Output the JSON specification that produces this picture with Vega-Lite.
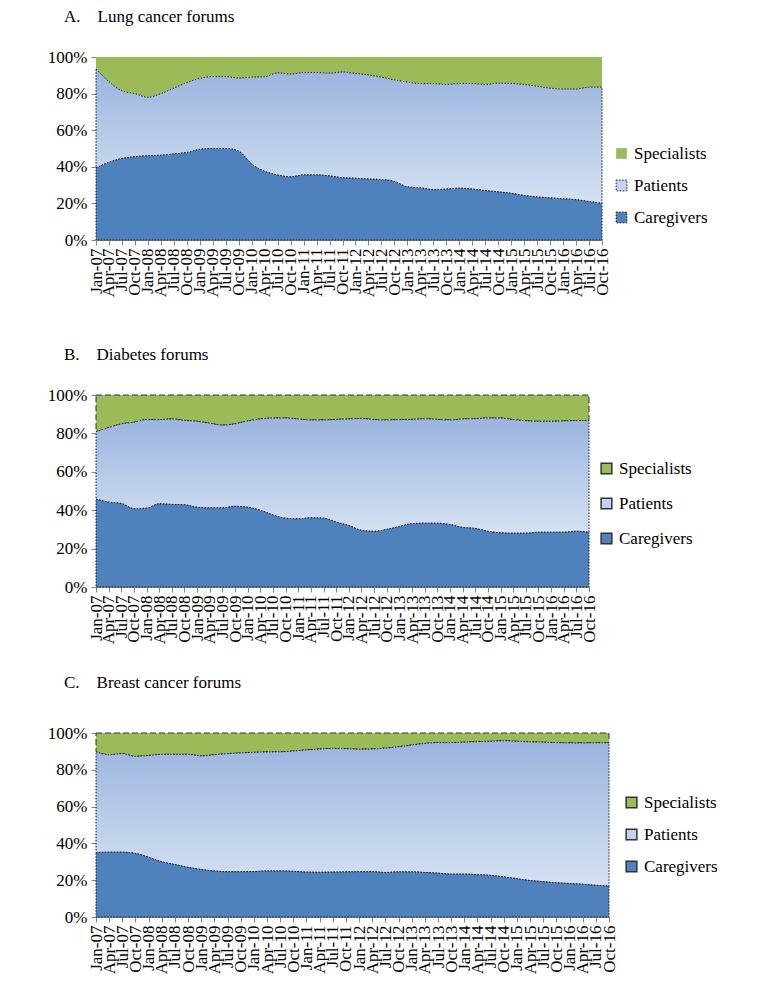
{
"$schema": "https://vega.github.io/schema/vega-lite/v6.json",
"padding": {"top": 8, "left": 47, "right": 5, "bottom": 5},
"config": {"view": {"stroke": null}, "font": "Liberation Serif",
 "axis": {"domainColor": "#868686", "tickColor": "#868686", "tickSize": 5, "labelFont": "Liberation Serif", "labelFontSize": 17, "labelColor": "#000", "grid": false, "zindex": 1},
 "legend": {"orient": "none", "title": null, "symbolType": "square", "symbolSize": 115, "labelFontSize": 17, "labelColor": "#000", "labelFont": "Liberation Serif", "labelOffset": 4, "padding": 0, "symbolOpacity": 1},
 "title": {"font": "Liberation Serif", "fontSize": 17, "fontWeight": "normal", "color": "#000", "anchor": "start", "frame": "group"}},
"datasets": {"d": [
{"p":"A","q":"Jan-07","g":"Caregivers","v":39.3},{"p":"A","q":"Jan-07","g":"Patients","v":54.1},{"p":"A","q":"Jan-07","g":"Specialists","v":6.6},
{"p":"A","q":"Apr-07","g":"Caregivers","v":42.5},{"p":"A","q":"Apr-07","g":"Patients","v":44.0},{"p":"A","q":"Apr-07","g":"Specialists","v":13.5},
{"p":"A","q":"Jul-07","g":"Caregivers","v":44.5},{"p":"A","q":"Jul-07","g":"Patients","v":37.0},{"p":"A","q":"Jul-07","g":"Specialists","v":18.5},
{"p":"A","q":"Oct-07","g":"Caregivers","v":45.5},{"p":"A","q":"Oct-07","g":"Patients","v":34.5},{"p":"A","q":"Oct-07","g":"Specialists","v":20.0},
{"p":"A","q":"Jan-08","g":"Caregivers","v":46.0},{"p":"A","q":"Jan-08","g":"Patients","v":32.0},{"p":"A","q":"Jan-08","g":"Specialists","v":22.0},
{"p":"A","q":"Apr-08","g":"Caregivers","v":46.3},{"p":"A","q":"Apr-08","g":"Patients","v":33.7},{"p":"A","q":"Apr-08","g":"Specialists","v":20.0},
{"p":"A","q":"Jul-08","g":"Caregivers","v":47.0},{"p":"A","q":"Jul-08","g":"Patients","v":36.0},{"p":"A","q":"Jul-08","g":"Specialists","v":17.0},
{"p":"A","q":"Oct-08","g":"Caregivers","v":47.8},{"p":"A","q":"Oct-08","g":"Patients","v":38.2},{"p":"A","q":"Oct-08","g":"Specialists","v":14.0},
{"p":"A","q":"Jan-09","g":"Caregivers","v":49.5},{"p":"A","q":"Jan-09","g":"Patients","v":38.8},{"p":"A","q":"Jan-09","g":"Specialists","v":11.7},
{"p":"A","q":"Apr-09","g":"Caregivers","v":50.0},{"p":"A","q":"Apr-09","g":"Patients","v":39.3},{"p":"A","q":"Apr-09","g":"Specialists","v":10.7},
{"p":"A","q":"Jul-09","g":"Caregivers","v":50.0},{"p":"A","q":"Jul-09","g":"Patients","v":39.3},{"p":"A","q":"Jul-09","g":"Specialists","v":10.7},
{"p":"A","q":"Oct-09","g":"Caregivers","v":48.5},{"p":"A","q":"Oct-09","g":"Patients","v":40.0},{"p":"A","q":"Oct-09","g":"Specialists","v":11.5},
{"p":"A","q":"Jan-10","g":"Caregivers","v":41.5},{"p":"A","q":"Jan-10","g":"Patients","v":47.5},{"p":"A","q":"Jan-10","g":"Specialists","v":11.0},
{"p":"A","q":"Apr-10","g":"Caregivers","v":37.5},{"p":"A","q":"Apr-10","g":"Patients","v":51.7},{"p":"A","q":"Apr-10","g":"Specialists","v":10.8},
{"p":"A","q":"Jul-10","g":"Caregivers","v":35.5},{"p":"A","q":"Jul-10","g":"Patients","v":55.8},{"p":"A","q":"Jul-10","g":"Specialists","v":8.7},
{"p":"A","q":"Oct-10","g":"Caregivers","v":34.5},{"p":"A","q":"Oct-10","g":"Patients","v":56.2},{"p":"A","q":"Oct-10","g":"Specialists","v":9.3},
{"p":"A","q":"Jan-11","g":"Caregivers","v":35.5},{"p":"A","q":"Jan-11","g":"Patients","v":56.0},{"p":"A","q":"Jan-11","g":"Specialists","v":8.5},
{"p":"A","q":"Apr-11","g":"Caregivers","v":35.5},{"p":"A","q":"Apr-11","g":"Patients","v":56.0},{"p":"A","q":"Apr-11","g":"Specialists","v":8.5},
{"p":"A","q":"Jul-11","g":"Caregivers","v":35.0},{"p":"A","q":"Jul-11","g":"Patients","v":56.2},{"p":"A","q":"Jul-11","g":"Specialists","v":8.8},
{"p":"A","q":"Oct-11","g":"Caregivers","v":34.0},{"p":"A","q":"Oct-11","g":"Patients","v":57.8},{"p":"A","q":"Oct-11","g":"Specialists","v":8.2},
{"p":"A","q":"Jan-12","g":"Caregivers","v":33.7},{"p":"A","q":"Jan-12","g":"Patients","v":57.3},{"p":"A","q":"Jan-12","g":"Specialists","v":9.0},
{"p":"A","q":"Apr-12","g":"Caregivers","v":33.3},{"p":"A","q":"Apr-12","g":"Patients","v":56.9},{"p":"A","q":"Apr-12","g":"Specialists","v":9.8},
{"p":"A","q":"Jul-12","g":"Caregivers","v":33.0},{"p":"A","q":"Jul-12","g":"Patients","v":56.0},{"p":"A","q":"Jul-12","g":"Specialists","v":11.0},
{"p":"A","q":"Oct-12","g":"Caregivers","v":32.0},{"p":"A","q":"Oct-12","g":"Patients","v":55.5},{"p":"A","q":"Oct-12","g":"Specialists","v":12.5},
{"p":"A","q":"Jan-13","g":"Caregivers","v":29.0},{"p":"A","q":"Jan-13","g":"Patients","v":57.3},{"p":"A","q":"Jan-13","g":"Specialists","v":13.7},
{"p":"A","q":"Apr-13","g":"Caregivers","v":28.5},{"p":"A","q":"Apr-13","g":"Patients","v":57.0},{"p":"A","q":"Apr-13","g":"Specialists","v":14.5},
{"p":"A","q":"Jul-13","g":"Caregivers","v":27.5},{"p":"A","q":"Jul-13","g":"Patients","v":58.0},{"p":"A","q":"Jul-13","g":"Specialists","v":14.5},
{"p":"A","q":"Oct-13","g":"Caregivers","v":27.8},{"p":"A","q":"Oct-13","g":"Patients","v":57.2},{"p":"A","q":"Oct-13","g":"Specialists","v":15.0},
{"p":"A","q":"Jan-14","g":"Caregivers","v":28.3},{"p":"A","q":"Jan-14","g":"Patients","v":57.2},{"p":"A","q":"Jan-14","g":"Specialists","v":14.5},
{"p":"A","q":"Apr-14","g":"Caregivers","v":27.8},{"p":"A","q":"Apr-14","g":"Patients","v":57.7},{"p":"A","q":"Apr-14","g":"Specialists","v":14.5},
{"p":"A","q":"Jul-14","g":"Caregivers","v":27.0},{"p":"A","q":"Jul-14","g":"Patients","v":58.0},{"p":"A","q":"Jul-14","g":"Specialists","v":15.0},
{"p":"A","q":"Oct-14","g":"Caregivers","v":26.3},{"p":"A","q":"Oct-14","g":"Patients","v":59.4},{"p":"A","q":"Oct-14","g":"Specialists","v":14.3},
{"p":"A","q":"Jan-15","g":"Caregivers","v":25.5},{"p":"A","q":"Jan-15","g":"Patients","v":60.0},{"p":"A","q":"Jan-15","g":"Specialists","v":14.5},
{"p":"A","q":"Apr-15","g":"Caregivers","v":24.3},{"p":"A","q":"Apr-15","g":"Patients","v":60.7},{"p":"A","q":"Apr-15","g":"Specialists","v":15.0},
{"p":"A","q":"Jul-15","g":"Caregivers","v":23.5},{"p":"A","q":"Jul-15","g":"Patients","v":60.5},{"p":"A","q":"Jul-15","g":"Specialists","v":16.0},
{"p":"A","q":"Oct-15","g":"Caregivers","v":23.0},{"p":"A","q":"Oct-15","g":"Patients","v":60.0},{"p":"A","q":"Oct-15","g":"Specialists","v":17.0},
{"p":"A","q":"Jan-16","g":"Caregivers","v":22.5},{"p":"A","q":"Jan-16","g":"Patients","v":60.0},{"p":"A","q":"Jan-16","g":"Specialists","v":17.5},
{"p":"A","q":"Apr-16","g":"Caregivers","v":22.0},{"p":"A","q":"Apr-16","g":"Patients","v":60.5},{"p":"A","q":"Apr-16","g":"Specialists","v":17.5},
{"p":"A","q":"Jul-16","g":"Caregivers","v":21.0},{"p":"A","q":"Jul-16","g":"Patients","v":62.5},{"p":"A","q":"Jul-16","g":"Specialists","v":16.5},
{"p":"A","q":"Oct-16","g":"Caregivers","v":20.0},{"p":"A","q":"Oct-16","g":"Patients","v":63.5},{"p":"A","q":"Oct-16","g":"Specialists","v":16.5},
{"p":"B","q":"Jan-07","g":"Caregivers","v":45.8},{"p":"B","q":"Jan-07","g":"Patients","v":35.1},{"p":"B","q":"Jan-07","g":"Specialists","v":19.1},
{"p":"B","q":"Apr-07","g":"Caregivers","v":44.2},{"p":"B","q":"Apr-07","g":"Patients","v":38.8},{"p":"B","q":"Apr-07","g":"Specialists","v":17.0},
{"p":"B","q":"Jul-07","g":"Caregivers","v":43.5},{"p":"B","q":"Jul-07","g":"Patients","v":41.5},{"p":"B","q":"Jul-07","g":"Specialists","v":15.0},
{"p":"B","q":"Oct-07","g":"Caregivers","v":40.8},{"p":"B","q":"Oct-07","g":"Patients","v":45.0},{"p":"B","q":"Oct-07","g":"Specialists","v":14.2},
{"p":"B","q":"Jan-08","g":"Caregivers","v":41.0},{"p":"B","q":"Jan-08","g":"Patients","v":46.2},{"p":"B","q":"Jan-08","g":"Specialists","v":12.8},
{"p":"B","q":"Apr-08","g":"Caregivers","v":43.3},{"p":"B","q":"Apr-08","g":"Patients","v":43.9},{"p":"B","q":"Apr-08","g":"Specialists","v":12.8},
{"p":"B","q":"Jul-08","g":"Caregivers","v":43.0},{"p":"B","q":"Jul-08","g":"Patients","v":44.5},{"p":"B","q":"Jul-08","g":"Specialists","v":12.5},
{"p":"B","q":"Oct-08","g":"Caregivers","v":42.8},{"p":"B","q":"Oct-08","g":"Patients","v":44.0},{"p":"B","q":"Oct-08","g":"Specialists","v":13.2},
{"p":"B","q":"Jan-09","g":"Caregivers","v":41.5},{"p":"B","q":"Jan-09","g":"Patients","v":44.8},{"p":"B","q":"Jan-09","g":"Specialists","v":13.7},
{"p":"B","q":"Apr-09","g":"Caregivers","v":41.2},{"p":"B","q":"Apr-09","g":"Patients","v":44.1},{"p":"B","q":"Apr-09","g":"Specialists","v":14.7},
{"p":"B","q":"Jul-09","g":"Caregivers","v":41.2},{"p":"B","q":"Jul-09","g":"Patients","v":43.1},{"p":"B","q":"Jul-09","g":"Specialists","v":15.7},
{"p":"B","q":"Oct-09","g":"Caregivers","v":42.0},{"p":"B","q":"Oct-09","g":"Patients","v":43.0},{"p":"B","q":"Oct-09","g":"Specialists","v":15.0},
{"p":"B","q":"Jan-10","g":"Caregivers","v":41.5},{"p":"B","q":"Jan-10","g":"Patients","v":45.0},{"p":"B","q":"Jan-10","g":"Specialists","v":13.5},
{"p":"B","q":"Apr-10","g":"Caregivers","v":40.0},{"p":"B","q":"Apr-10","g":"Patients","v":47.5},{"p":"B","q":"Apr-10","g":"Specialists","v":12.5},
{"p":"B","q":"Jul-10","g":"Caregivers","v":37.5},{"p":"B","q":"Jul-10","g":"Patients","v":50.5},{"p":"B","q":"Jul-10","g":"Specialists","v":12.0},
{"p":"B","q":"Oct-10","g":"Caregivers","v":35.8},{"p":"B","q":"Oct-10","g":"Patients","v":52.2},{"p":"B","q":"Oct-10","g":"Specialists","v":12.0},
{"p":"B","q":"Jan-11","g":"Caregivers","v":35.5},{"p":"B","q":"Jan-11","g":"Patients","v":52.0},{"p":"B","q":"Jan-11","g":"Specialists","v":12.5},
{"p":"B","q":"Apr-11","g":"Caregivers","v":36.0},{"p":"B","q":"Apr-11","g":"Patients","v":51.0},{"p":"B","q":"Apr-11","g":"Specialists","v":13.0},
{"p":"B","q":"Jul-11","g":"Caregivers","v":35.8},{"p":"B","q":"Jul-11","g":"Patients","v":51.2},{"p":"B","q":"Jul-11","g":"Specialists","v":13.0},
{"p":"B","q":"Oct-11","g":"Caregivers","v":33.8},{"p":"B","q":"Oct-11","g":"Patients","v":53.5},{"p":"B","q":"Oct-11","g":"Specialists","v":12.7},
{"p":"B","q":"Jan-12","g":"Caregivers","v":32.0},{"p":"B","q":"Jan-12","g":"Patients","v":55.5},{"p":"B","q":"Jan-12","g":"Specialists","v":12.5},
{"p":"B","q":"Apr-12","g":"Caregivers","v":29.5},{"p":"B","q":"Apr-12","g":"Patients","v":58.3},{"p":"B","q":"Apr-12","g":"Specialists","v":12.2},
{"p":"B","q":"Jul-12","g":"Caregivers","v":29.0},{"p":"B","q":"Jul-12","g":"Patients","v":58.2},{"p":"B","q":"Jul-12","g":"Specialists","v":12.8},
{"p":"B","q":"Oct-12","g":"Caregivers","v":30.0},{"p":"B","q":"Oct-12","g":"Patients","v":57.0},{"p":"B","q":"Oct-12","g":"Specialists","v":13.0},
{"p":"B","q":"Jan-13","g":"Caregivers","v":31.5},{"p":"B","q":"Jan-13","g":"Patients","v":55.7},{"p":"B","q":"Jan-13","g":"Specialists","v":12.8},
{"p":"B","q":"Apr-13","g":"Caregivers","v":33.0},{"p":"B","q":"Apr-13","g":"Patients","v":54.3},{"p":"B","q":"Apr-13","g":"Specialists","v":12.7},
{"p":"B","q":"Jul-13","g":"Caregivers","v":33.2},{"p":"B","q":"Jul-13","g":"Patients","v":54.4},{"p":"B","q":"Jul-13","g":"Specialists","v":12.4},
{"p":"B","q":"Oct-13","g":"Caregivers","v":33.2},{"p":"B","q":"Oct-13","g":"Patients","v":54.1},{"p":"B","q":"Oct-13","g":"Specialists","v":12.7},
{"p":"B","q":"Jan-14","g":"Caregivers","v":32.5},{"p":"B","q":"Jan-14","g":"Patients","v":54.5},{"p":"B","q":"Jan-14","g":"Specialists","v":13.0},
{"p":"B","q":"Apr-14","g":"Caregivers","v":31.0},{"p":"B","q":"Apr-14","g":"Patients","v":56.5},{"p":"B","q":"Apr-14","g":"Specialists","v":12.5},
{"p":"B","q":"Jul-14","g":"Caregivers","v":30.5},{"p":"B","q":"Jul-14","g":"Patients","v":57.2},{"p":"B","q":"Jul-14","g":"Specialists","v":12.3},
{"p":"B","q":"Oct-14","g":"Caregivers","v":29.0},{"p":"B","q":"Oct-14","g":"Patients","v":59.0},{"p":"B","q":"Oct-14","g":"Specialists","v":12.0},
{"p":"B","q":"Jan-15","g":"Caregivers","v":28.2},{"p":"B","q":"Jan-15","g":"Patients","v":59.8},{"p":"B","q":"Jan-15","g":"Specialists","v":12.0},
{"p":"B","q":"Apr-15","g":"Caregivers","v":28.0},{"p":"B","q":"Apr-15","g":"Patients","v":59.2},{"p":"B","q":"Apr-15","g":"Specialists","v":12.8},
{"p":"B","q":"Jul-15","g":"Caregivers","v":28.0},{"p":"B","q":"Jul-15","g":"Patients","v":58.6},{"p":"B","q":"Jul-15","g":"Specialists","v":13.4},
{"p":"B","q":"Oct-15","g":"Caregivers","v":28.5},{"p":"B","q":"Oct-15","g":"Patients","v":57.8},{"p":"B","q":"Oct-15","g":"Specialists","v":13.7},
{"p":"B","q":"Jan-16","g":"Caregivers","v":28.5},{"p":"B","q":"Jan-16","g":"Patients","v":57.8},{"p":"B","q":"Jan-16","g":"Specialists","v":13.7},
{"p":"B","q":"Apr-16","g":"Caregivers","v":28.5},{"p":"B","q":"Apr-16","g":"Patients","v":58.0},{"p":"B","q":"Apr-16","g":"Specialists","v":13.5},
{"p":"B","q":"Jul-16","g":"Caregivers","v":29.0},{"p":"B","q":"Jul-16","g":"Patients","v":57.7},{"p":"B","q":"Jul-16","g":"Specialists","v":13.3},
{"p":"B","q":"Oct-16","g":"Caregivers","v":28.5},{"p":"B","q":"Oct-16","g":"Patients","v":58.2},{"p":"B","q":"Oct-16","g":"Specialists","v":13.3},
{"p":"C","q":"Jan-07","g":"Caregivers","v":35.0},{"p":"C","q":"Jan-07","g":"Patients","v":54.8},{"p":"C","q":"Jan-07","g":"Specialists","v":10.2},
{"p":"C","q":"Apr-07","g":"Caregivers","v":35.2},{"p":"C","q":"Apr-07","g":"Patients","v":53.0},{"p":"C","q":"Apr-07","g":"Specialists","v":11.8},
{"p":"C","q":"Jul-07","g":"Caregivers","v":35.2},{"p":"C","q":"Jul-07","g":"Patients","v":53.6},{"p":"C","q":"Jul-07","g":"Specialists","v":11.2},
{"p":"C","q":"Oct-07","g":"Caregivers","v":34.5},{"p":"C","q":"Oct-07","g":"Patients","v":52.8},{"p":"C","q":"Oct-07","g":"Specialists","v":12.7},
{"p":"C","q":"Jan-08","g":"Caregivers","v":32.5},{"p":"C","q":"Jan-08","g":"Patients","v":55.3},{"p":"C","q":"Jan-08","g":"Specialists","v":12.2},
{"p":"C","q":"Apr-08","g":"Caregivers","v":30.0},{"p":"C","q":"Apr-08","g":"Patients","v":58.4},{"p":"C","q":"Apr-08","g":"Specialists","v":11.6},
{"p":"C","q":"Jul-08","g":"Caregivers","v":28.5},{"p":"C","q":"Jul-08","g":"Patients","v":59.9},{"p":"C","q":"Jul-08","g":"Specialists","v":11.6},
{"p":"C","q":"Oct-08","g":"Caregivers","v":27.0},{"p":"C","q":"Oct-08","g":"Patients","v":61.4},{"p":"C","q":"Oct-08","g":"Specialists","v":11.6},
{"p":"C","q":"Jan-09","g":"Caregivers","v":25.8},{"p":"C","q":"Jan-09","g":"Patients","v":61.8},{"p":"C","q":"Jan-09","g":"Specialists","v":12.4},
{"p":"C","q":"Apr-09","g":"Caregivers","v":25.0},{"p":"C","q":"Apr-09","g":"Patients","v":63.2},{"p":"C","q":"Apr-09","g":"Specialists","v":11.8},
{"p":"C","q":"Jul-09","g":"Caregivers","v":24.6},{"p":"C","q":"Jul-09","g":"Patients","v":64.2},{"p":"C","q":"Jul-09","g":"Specialists","v":11.2},
{"p":"C","q":"Oct-09","g":"Caregivers","v":24.6},{"p":"C","q":"Oct-09","g":"Patients","v":64.6},{"p":"C","q":"Oct-09","g":"Specialists","v":10.8},
{"p":"C","q":"Jan-10","g":"Caregivers","v":24.7},{"p":"C","q":"Jan-10","g":"Patients","v":64.8},{"p":"C","q":"Jan-10","g":"Specialists","v":10.5},
{"p":"C","q":"Apr-10","g":"Caregivers","v":25.0},{"p":"C","q":"Apr-10","g":"Patients","v":64.7},{"p":"C","q":"Apr-10","g":"Specialists","v":10.3},
{"p":"C","q":"Jul-10","g":"Caregivers","v":25.0},{"p":"C","q":"Jul-10","g":"Patients","v":64.8},{"p":"C","q":"Jul-10","g":"Specialists","v":10.2},
{"p":"C","q":"Oct-10","g":"Caregivers","v":24.8},{"p":"C","q":"Oct-10","g":"Patients","v":65.4},{"p":"C","q":"Oct-10","g":"Specialists","v":9.8},
{"p":"C","q":"Jan-11","g":"Caregivers","v":24.4},{"p":"C","q":"Jan-11","g":"Patients","v":66.4},{"p":"C","q":"Jan-11","g":"Specialists","v":9.2},
{"p":"C","q":"Apr-11","g":"Caregivers","v":24.3},{"p":"C","q":"Apr-11","g":"Patients","v":67.0},{"p":"C","q":"Apr-11","g":"Specialists","v":8.7},
{"p":"C","q":"Jul-11","g":"Caregivers","v":24.4},{"p":"C","q":"Jul-11","g":"Patients","v":67.2},{"p":"C","q":"Jul-11","g":"Specialists","v":8.4},
{"p":"C","q":"Oct-11","g":"Caregivers","v":24.5},{"p":"C","q":"Oct-11","g":"Patients","v":67.0},{"p":"C","q":"Oct-11","g":"Specialists","v":8.5},
{"p":"C","q":"Jan-12","g":"Caregivers","v":24.6},{"p":"C","q":"Jan-12","g":"Patients","v":66.6},{"p":"C","q":"Jan-12","g":"Specialists","v":8.8},
{"p":"C","q":"Apr-12","g":"Caregivers","v":24.6},{"p":"C","q":"Apr-12","g":"Patients","v":66.7},{"p":"C","q":"Apr-12","g":"Specialists","v":8.7},
{"p":"C","q":"Jul-12","g":"Caregivers","v":24.2},{"p":"C","q":"Jul-12","g":"Patients","v":67.6},{"p":"C","q":"Jul-12","g":"Specialists","v":8.2},
{"p":"C","q":"Oct-12","g":"Caregivers","v":24.5},{"p":"C","q":"Oct-12","g":"Patients","v":68.0},{"p":"C","q":"Oct-12","g":"Specialists","v":7.5},
{"p":"C","q":"Jan-13","g":"Caregivers","v":24.5},{"p":"C","q":"Jan-13","g":"Patients","v":69.0},{"p":"C","q":"Jan-13","g":"Specialists","v":6.5},
{"p":"C","q":"Apr-13","g":"Caregivers","v":24.2},{"p":"C","q":"Apr-13","g":"Patients","v":70.1},{"p":"C","q":"Apr-13","g":"Specialists","v":5.7},
{"p":"C","q":"Jul-13","g":"Caregivers","v":23.8},{"p":"C","q":"Jul-13","g":"Patients","v":71.0},{"p":"C","q":"Jul-13","g":"Specialists","v":5.2},
{"p":"C","q":"Oct-13","g":"Caregivers","v":23.3},{"p":"C","q":"Oct-13","g":"Patients","v":71.5},{"p":"C","q":"Oct-13","g":"Specialists","v":5.2},
{"p":"C","q":"Jan-14","g":"Caregivers","v":23.3},{"p":"C","q":"Jan-14","g":"Patients","v":71.7},{"p":"C","q":"Jan-14","g":"Specialists","v":5.0},
{"p":"C","q":"Apr-14","g":"Caregivers","v":23.0},{"p":"C","q":"Apr-14","g":"Patients","v":72.3},{"p":"C","q":"Apr-14","g":"Specialists","v":4.7},
{"p":"C","q":"Jul-14","g":"Caregivers","v":22.6},{"p":"C","q":"Jul-14","g":"Patients","v":72.9},{"p":"C","q":"Jul-14","g":"Specialists","v":4.5},
{"p":"C","q":"Oct-14","g":"Caregivers","v":21.8},{"p":"C","q":"Oct-14","g":"Patients","v":74.0},{"p":"C","q":"Oct-14","g":"Specialists","v":4.2},
{"p":"C","q":"Jan-15","g":"Caregivers","v":20.8},{"p":"C","q":"Jan-15","g":"Patients","v":74.7},{"p":"C","q":"Jan-15","g":"Specialists","v":4.5},
{"p":"C","q":"Apr-15","g":"Caregivers","v":19.8},{"p":"C","q":"Apr-15","g":"Patients","v":75.4},{"p":"C","q":"Apr-15","g":"Specialists","v":4.8},
{"p":"C","q":"Jul-15","g":"Caregivers","v":19.2},{"p":"C","q":"Jul-15","g":"Patients","v":75.8},{"p":"C","q":"Jul-15","g":"Specialists","v":5.0},
{"p":"C","q":"Oct-15","g":"Caregivers","v":18.6},{"p":"C","q":"Oct-15","g":"Patients","v":76.2},{"p":"C","q":"Oct-15","g":"Specialists","v":5.2},
{"p":"C","q":"Jan-16","g":"Caregivers","v":18.2},{"p":"C","q":"Jan-16","g":"Patients","v":76.4},{"p":"C","q":"Jan-16","g":"Specialists","v":5.4},
{"p":"C","q":"Apr-16","g":"Caregivers","v":17.8},{"p":"C","q":"Apr-16","g":"Patients","v":76.8},{"p":"C","q":"Apr-16","g":"Specialists","v":5.4},
{"p":"C","q":"Jul-16","g":"Caregivers","v":17.2},{"p":"C","q":"Jul-16","g":"Patients","v":77.5},{"p":"C","q":"Jul-16","g":"Specialists","v":5.3},
{"p":"C","q":"Oct-16","g":"Caregivers","v":16.8},{"p":"C","q":"Oct-16","g":"Patients","v":77.9},{"p":"C","q":"Oct-16","g":"Specialists","v":5.3}
]},
"data": {"name": "d"},
"spacing": 49,
"resolve": {"scale": {"color": "independent"}, "legend": {"color": "independent"}},
"vconcat": [
{
 "title": {"text": "A.\u00a0\u00a0\u00a0\u00a0Lung cancer forums", "dx": -32, "offset": 22},
 "width": 506, "height": 183,
 "transform": [{"filter": "datum.p === 'A'"}, {"stack": "v", "groupby": ["q"], "sort": [{"field": "g", "order": "ascending"}], "as": ["v0", "v1"]}],
 "encoding": {
  "x": {"field": "q", "type": "nominal", "sort": null, "scale": {"type": "point", "padding": 0}, "axis": {"title": null, "labelAngle": -90, "labelAlign": "right", "labelBaseline": "middle", "labelOverlap": false, "labelPadding": 3}},
  "y": {"field": "v1", "type": "quantitative", "scale": {"domain": [0, 100]}, "axis": {"title": null, "values": [0, 20, 40, 60, 80, 100], "labelExpr": "datum.value + '%'", "labelPadding": 4}},
  "y2": {"field": "v0"}
 },
 "layer": [
  {"transform": [{"filter": "datum.g === 'Specialists'"}], "mark": {"type": "area", "interpolate": "monotone", "strokeWidth": 0},
   "encoding": {"color": {"field": "g", "type": "nominal", "scale": {"domain": ["Specialists", "Patients", "Caregivers"], "range": ["#9BBB59", "#C3D3EC", "#4F81BD"]},
    "legend": {"legendX": 517, "legendY": 88, "rowPadding": 14,
     "encode": {"symbols": {"update": {"stroke": {"signal": "datum.value === 'Specialists' ? 'transparent' : '#1a1a1a'"}, "strokeWidth": {"value": 1}, "strokeDash": {"value": [1.5, 1.5]}}}}}}}},
  {"transform": [{"filter": "datum.g === 'Patients'"}], "mark": {"type": "area", "interpolate": "monotone", "fill": {"gradient": "linear", "x1": 0, "y1": 0, "x2": 0, "y2": 1, "stops": [{"offset": 0, "color": "#9AB4DF"}, {"offset": 1, "color": "#D5E1F2"}]}, "stroke": "#1a1a1a", "strokeWidth": 1, "strokeDash": [1.5, 1.5]}},
  {"transform": [{"filter": "datum.g === 'Caregivers'"}], "mark": {"type": "area", "interpolate": "monotone", "stroke": "#1a1a1a", "strokeWidth": 1, "strokeDash": [1.5, 1.5]},
   "encoding": {"color": {"field": "g", "type": "nominal", "scale": {"domain": ["Specialists", "Patients", "Caregivers"], "range": ["#9BBB59", "#C3D3EC", "#4F81BD"]},
    "legend": {"legendX": 517, "legendY": 88, "rowPadding": 14,
     "encode": {"symbols": {"update": {"stroke": {"signal": "datum.value === 'Specialists' ? 'transparent' : '#1a1a1a'"}, "strokeWidth": {"value": 1}, "strokeDash": {"value": [1.5, 1.5]}}}}}}}}
 ]
},
{
 "spacing": 30,
 "resolve": {"scale": {"color": "independent"}, "legend": {"color": "independent"}},
 "vconcat": [
 {
  "title": {"text": "B.\u00a0\u00a0\u00a0\u00a0Diabetes forums", "dx": -32, "offset": 22},
  "width": 493, "height": 192,
  "transform": [{"filter": "datum.p === 'B'"}, {"stack": "v", "groupby": ["q"], "sort": [{"field": "g", "order": "ascending"}], "as": ["v0", "v1"]}],
  "encoding": {
   "x": {"field": "q", "type": "nominal", "sort": null, "scale": {"type": "point", "padding": 0}, "axis": {"title": null, "labelAngle": -90, "labelAlign": "right", "labelBaseline": "middle", "labelOverlap": false, "labelPadding": 3}},
   "y": {"field": "v1", "type": "quantitative", "scale": {"domain": [0, 100]}, "axis": {"title": null, "values": [0, 20, 40, 60, 80, 100], "labelExpr": "datum.value + '%'", "labelPadding": 4}},
   "y2": {"field": "v0"}
  },
  "layer": [
   {"transform": [{"filter": "datum.g === 'Specialists'"}], "mark": {"type": "area", "interpolate": "monotone", "stroke": "#333333", "strokeWidth": 1, "strokeDash": [6, 3]},
    "encoding": {"color": {"field": "g", "type": "nominal", "scale": {"domain": ["Specialists", "Patients", "Caregivers"], "range": ["#9BBB59", "#C3D3EC", "#4F81BD"]},
     "legend": {"legendX": 502, "legendY": 65, "rowPadding": 17,
      "encode": {"symbols": {"update": {"stroke": {"value": "#1a1a1a"}, "strokeWidth": {"value": 1}, "strokeDash": {"signal": "datum.value === 'Specialists' ? [4, 2] : [1.5, 1.5]"}}}}}}}},
   {"transform": [{"filter": "datum.g === 'Patients'"}], "mark": {"type": "area", "interpolate": "monotone", "fill": {"gradient": "linear", "x1": 0, "y1": 0, "x2": 0, "y2": 1, "stops": [{"offset": 0, "color": "#9AB4DF"}, {"offset": 1, "color": "#D5E1F2"}]}, "stroke": "#1a1a1a", "strokeWidth": 1, "strokeDash": [1.5, 1.5]}},
   {"transform": [{"filter": "datum.g === 'Caregivers'"}], "mark": {"type": "area", "interpolate": "monotone", "stroke": "#1a1a1a", "strokeWidth": 1, "strokeDash": [1.5, 1.5]},
    "encoding": {"color": {"field": "g", "type": "nominal", "scale": {"domain": ["Specialists", "Patients", "Caregivers"], "range": ["#9BBB59", "#C3D3EC", "#4F81BD"]},
     "legend": {"legendX": 502, "legendY": 65, "rowPadding": 17,
      "encode": {"symbols": {"update": {"stroke": {"value": "#1a1a1a"}, "strokeWidth": {"value": 1}, "strokeDash": {"signal": "datum.value === 'Specialists' ? [4, 2] : [1.5, 1.5]"}}}}}}}},
   {"transform": [{"filter": "datum.g === 'Specialists'"}], "mark": {"type": "line", "interpolate": "monotone", "stroke": "#333333", "strokeWidth": 1, "strokeDash": [6, 3]}, "encoding": {"y": {"field": "v0", "type": "quantitative"}}}
  ]
 },
 {
  "title": {"text": "C.\u00a0\u00a0\u00a0\u00a0Breast cancer forums", "dx": -32, "offset": 32},
  "width": 513, "height": 184,
  "transform": [{"filter": "datum.p === 'C'"}, {"stack": "v", "groupby": ["q"], "sort": [{"field": "g", "order": "ascending"}], "as": ["v0", "v1"]}],
  "encoding": {
   "x": {"field": "q", "type": "nominal", "sort": null, "scale": {"type": "point", "padding": 0}, "axis": {"title": null, "labelAngle": -90, "labelAlign": "right", "labelBaseline": "middle", "labelOverlap": false, "labelPadding": 3}},
   "y": {"field": "v1", "type": "quantitative", "scale": {"domain": [0, 100]}, "axis": {"title": null, "values": [0, 20, 40, 60, 80, 100], "labelExpr": "datum.value + '%'", "labelPadding": 4}},
   "y2": {"field": "v0"}
  },
  "layer": [
   {"transform": [{"filter": "datum.g === 'Specialists'"}], "mark": {"type": "area", "interpolate": "monotone", "stroke": "#333333", "strokeWidth": 1, "strokeDash": [6, 3]},
    "encoding": {"color": {"field": "g", "type": "nominal", "scale": {"domain": ["Specialists", "Patients", "Caregivers"], "range": ["#9BBB59", "#C3D3EC", "#4F81BD"]},
     "legend": {"legendX": 527, "legendY": 61, "rowPadding": 14,
      "encode": {"symbols": {"update": {"stroke": {"value": "#1a1a1a"}, "strokeWidth": {"value": 1}, "strokeDash": {"signal": "datum.value === 'Specialists' ? [4, 2] : [1.5, 1.5]"}}}}}}}},
   {"transform": [{"filter": "datum.g === 'Patients'"}], "mark": {"type": "area", "interpolate": "monotone", "fill": {"gradient": "linear", "x1": 0, "y1": 0, "x2": 0, "y2": 1, "stops": [{"offset": 0, "color": "#9AB4DF"}, {"offset": 1, "color": "#D5E1F2"}]}, "stroke": "#1a1a1a", "strokeWidth": 1, "strokeDash": [1.5, 1.5]}},
   {"transform": [{"filter": "datum.g === 'Caregivers'"}], "mark": {"type": "area", "interpolate": "monotone", "stroke": "#1a1a1a", "strokeWidth": 1, "strokeDash": [1.5, 1.5]},
    "encoding": {"color": {"field": "g", "type": "nominal", "scale": {"domain": ["Specialists", "Patients", "Caregivers"], "range": ["#9BBB59", "#C3D3EC", "#4F81BD"]},
     "legend": {"legendX": 527, "legendY": 61, "rowPadding": 14,
      "encode": {"symbols": {"update": {"stroke": {"value": "#1a1a1a"}, "strokeWidth": {"value": 1}, "strokeDash": {"signal": "datum.value === 'Specialists' ? [4, 2] : [1.5, 1.5]"}}}}}}}},
   {"transform": [{"filter": "datum.g === 'Specialists'"}], "mark": {"type": "line", "interpolate": "monotone", "stroke": "#333333", "strokeWidth": 1, "strokeDash": [6, 3]}, "encoding": {"y": {"field": "v0", "type": "quantitative"}}}
  ]
 }
 ]
}
]
}
